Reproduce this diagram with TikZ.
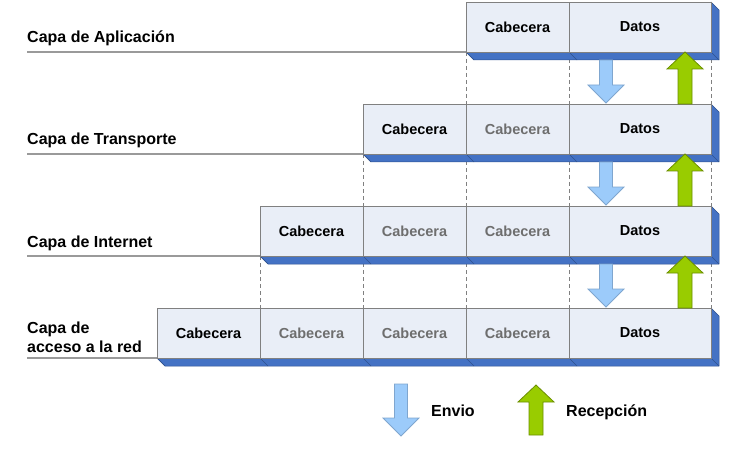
\documentclass[tikz,border=0pt]{standalone}
\usepackage{fontspec}
\setmainfont{Liberation Sans}
\usetikzlibrary{calc,backgrounds}
\definecolor{cellfill}{HTML}{E9EEF7}
\definecolor{cellline}{HTML}{808080}
\definecolor{innertext}{HTML}{6E6E6E}
\definecolor{bandblue}{HTML}{4472C4}
\definecolor{bandedge}{HTML}{2F528F}
\definecolor{sendfill}{HTML}{9CCBFA}
\definecolor{sendline}{HTML}{7FA6CF}
\definecolor{recvfill}{HTML}{99CC00}
\definecolor{recvline}{HTML}{6B8E00}
\definecolor{rule}{HTML}{9A9A9A}

% block arrow pointing down: centre x, top y, tip y
\newcommand\sendarrow[3]{%
  \filldraw[sendarr] (#1-6.5,#2) -- (#1+6.5,#2) -- (#1+6.5,#3-18) -- (#1+18,#3-18)
    -- (#1,#3) -- (#1-18,#3-18) -- (#1-6.5,#3-18) -- cycle;}
% block arrow pointing up: centre x, bottom y, tip y
\newcommand\recvarrow[3]{%
  \filldraw[recvarr] (#1-7,#2) -- (#1+7,#2) -- (#1+7,#3+17) -- (#1+18,#3+17)
    -- (#1,#3) -- (#1-18,#3+17) -- (#1-7,#3+17) -- cycle;}
% extruded blue base under a row: first cell, last cell
\newcommand\rowband[2]{%
  \filldraw[band] (#1.south west) -- ++(8,8) -- ($(#2.south east)+(8,8)$)
    -- ($(#2.north east)+(8,8)$) -- (#2.north east) -- (#2.south east) -- cycle;}

\begin{document}
\begin{tikzpicture}[x=1pt,y=-1pt,
  cell/.style={draw=cellline, fill=cellfill, line width=0.8pt, minimum height=50pt,
    minimum width=103pt, anchor=north west, inner sep=0pt, outer sep=0pt,
    font=\fontsize{14.5}{16}\selectfont\bfseries},
  own/.style={text=black},
  inner/.style={text=innertext},
  datos/.style={minimum width=142pt, text=black},
  band/.style={fill=bandblue, draw=bandedge, line width=0.5pt, line join=round},
  seam/.style={draw=bandedge, line width=0.6pt},
  layer/.style={anchor=base west, inner sep=0pt, font=\fontsize{16}{19}\selectfont\bfseries},
  underline/.style={draw=rule, line width=1.4pt},
  guide/.style={draw=cellline, line width=0.7pt, dash pattern=on 4pt off 3pt},
  sendarr/.style={fill=sendfill, draw=sendline, line width=0.8pt, line join=miter},
  recvarr/.style={fill=recvfill, draw=recvline, line width=0.8pt, line join=miter},
  legend/.style={anchor=base west, inner sep=0pt, font=\fontsize{16}{19}\selectfont\bfseries}]
\useasboundingbox (0,0) rectangle (730,449);

% layer names
\node[layer] (l1) at (27,43) {Capa de Aplicación};
\node[layer] (l2) at (27,145) {Capa de Transporte};
\node[layer] (l3) at (27,247) {Capa de Internet};
\node[layer] (l4a) at (27,333) {Capa de};
\node[layer] (l4b) at (27,352) {acceso a la red};

% row 1: application
\node[cell, own] (a1) at (466,2) {Cabecera};
\node[cell, datos] (a2) at (569,2) {Datos};
% row 2: transport
\node[cell, own] (t1) at (363,104) {Cabecera};
\node[cell, inner] (t2) at (466,104) {Cabecera};
\node[cell, datos] (t3) at (569,104) {Datos};
% row 3: internet
\node[cell, own] (i1) at (260,206) {Cabecera};
\node[cell, inner] (i2) at (363,206) {Cabecera};
\node[cell, inner] (i3) at (466,206) {Cabecera};
\node[cell, datos] (i4) at (569,206) {Datos};
% row 4: network access
\node[cell, own] (n1) at (157,308) {Cabecera};
\node[cell, inner] (n2) at (260,308) {Cabecera};
\node[cell, inner] (n3) at (363,308) {Cabecera};
\node[cell, inner] (n4) at (466,308) {Cabecera};
\node[cell, datos] (n5) at (569,308) {Datos};

\begin{pgfonlayer}{background}
  % rules under the layer names
  \draw[underline] (l1.base west |- a1.south) -- (a1.south west);
  \draw[underline] (l2.base west |- t1.south) -- (t1.south west);
  \draw[underline] (l3.base west |- i1.south) -- (i1.south west);
  \draw[underline] (l4b.base west |- n1.south) -- (n1.south west);
  % dashed guides between rows
  \foreach \u/\d in {a1/t2,a2/t3,t1/i2,t2/i3,t3/i4,i1/n2,i2/n3,i3/n4,i4/n5}
    \draw[guide] (\u.south west) -- (\d.north west);
  \foreach \u/\d in {a2/t3,t3/i4,i4/n5}
    \draw[guide] (\u.south east) -- (\d.north east);
  % blue bases
  \rowband{a1}{a2}
  \rowband{t1}{t3}
  \rowband{i1}{i4}
  \rowband{n1}{n5}
  \foreach \c in {a1,a2,t1,t2,t3,i1,i2,i3,i4,n1,n2,n3,n4,n5}
    \draw[seam] (\c.south west) -- ++(8,8);
  \foreach \c in {a2,t3,i4,n5}
    \draw[seam] (\c.south east) -- ++(8,8);
\end{pgfonlayer}

% sending and receiving arrows between rows
\sendarrow{606}{60}{103}
\sendarrow{606}{162}{205}
\sendarrow{606}{264}{307}
\recvarrow{685}{104}{52}
\recvarrow{685}{206}{154}
\recvarrow{685}{308}{256}

% legend
\sendarrow{401}{384}{436}
\node[legend] (env) at (431,416) {Envio};
\recvarrow{536}{435}{385}
\node[legend] (rec) at (566,416) {Recepción};
\end{tikzpicture}
\end{document}
